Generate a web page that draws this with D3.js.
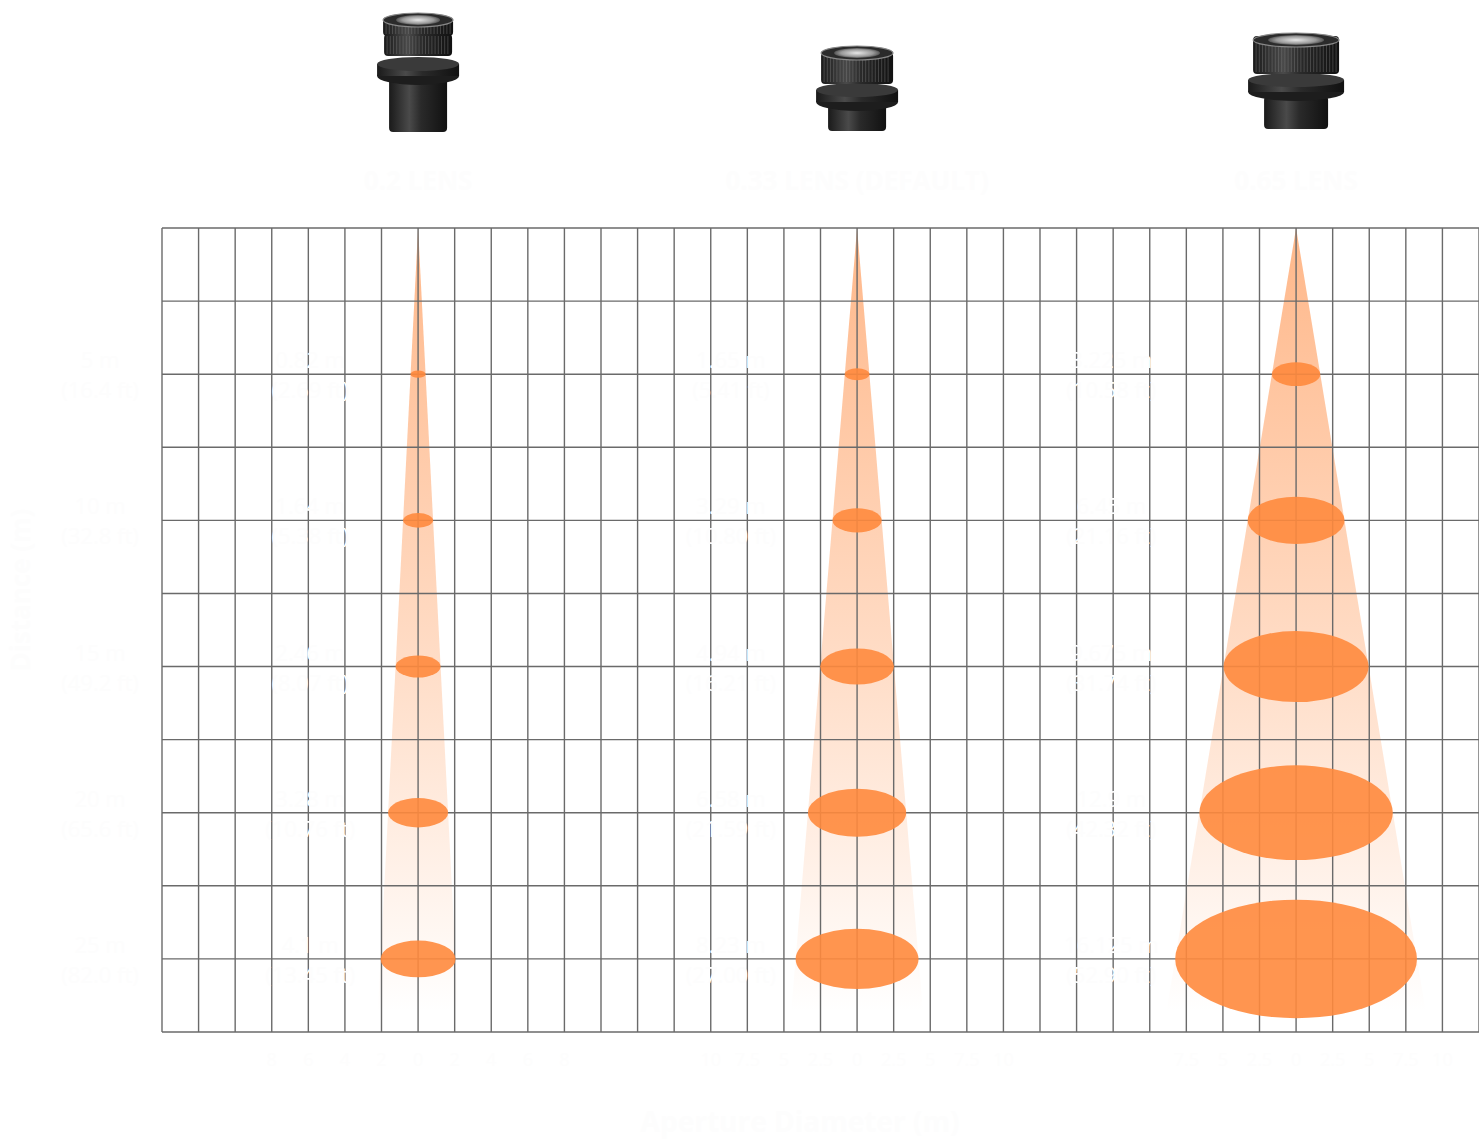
<!DOCTYPE html>
<html>
<head>
<meta charset="utf-8">
<script src="https://cdn.jsdelivr.net/npm/d3@7/dist/d3.min.js"></script>
<style>
  html, body { margin: 0; padding: 0; background: #ffffff; }
  svg { display: block; font-family: "Open Sans", "DejaVu Sans", sans-serif; }
</style>
</head>
<body>
<svg id="chart" width="1479" height="1142"></svg>
<script>
// ---------------- DATA ----------------
const lensNames = ["0.2 LENS", "0.33 LENS (DEFAULT)", "0.65 LENS"];
const distances = [5, 10, 15, 20, 25];                       // metres
const distanceLabels = ["(16.4 ft)", "(32.8 ft)", "(49.2 ft)", "(65.6 ft)", "(82.0 ft)"];
const lens1Diam = [0.82, 1.64, 2.46, 3.28, 4.10];
const lens2Diam = [1.65, 3.29, 4.94, 6.58, 8.23];
const lens3Diam = [3.225, 6.45, 9.675, 12.90, 16.125];
const lens1Feet = ["(2.69 ft)", "(5.38 ft)", "(8.07 ft)", "(10.76 ft)", "(13.45 ft)"];
const lens2Feet = ["(5.41 ft)", "(10.80 ft)", "(16.21 ft)", "(21.59 ft)", "(27.00 ft)"];
const lens3Feet = ["(10.58 ft)", "(21.16 ft)", "(31.74 ft)", "(42.32 ft)", "(52.90 ft)"];
const lens1Ticks = ["8", "6", "4", "2", "0", "2", "4", "6", "8"];
const lens2Ticks = ["10", "7.5", "5", "2.5", "0", "2.5", "5", "7.5", "10"];
const lens3Ticks = ["7.5", "5", "2.5", "0", "2.5", "5", "7.5", "10"];
const xAxisTitle = "Aperture Diameter (m)";
const yAxisTitle = "Distance (m)";

// ---------------- LAYOUT ----------------
const svg = d3.select("#chart");
const gridLeft = 162, gridRight = 1479, gridTop = 228, gridBottom = 1032;
const nCols = 36;
const maxDist = 27.5;

const y = d3.scaleLinear().domain([0, maxDist]).range([gridTop, gridBottom]);
const col = d3.scaleLinear().domain([0, nCols]).range([gridLeft, gridRight]);
const cellW = (gridRight - gridLeft) / nCols;

const panels = [
  { name: lensNames[0], diam: lens1Diam, feet: lens1Feet, ticks: lens1Ticks, center: 7, mPerCell: 2.0, labelCol: 4.05, tickStart: 3 },
  { name: lensNames[1], diam: lens2Diam, feet: lens2Feet, ticks: lens2Ticks, center: 19, mPerCell: 2.45, labelCol: 15.55, tickStart: 15 },
  { name: lensNames[2], diam: lens3Diam, feet: lens3Feet, ticks: lens3Ticks, center: 31, mPerCell: 2.44, labelCol: 25.95, tickStart: 28 }
];
panels.forEach(p => {
  const cx = col(p.center);
  p.x = d3.scaleLinear().domain([-p.mPerCell, p.mPerCell]).range([cx - cellW, cx + cellW]);
});

const textWhite = "#fdfdfd";
const orange = "#ff8a3d";

const defs = svg.append("defs");
const cone = defs.append("linearGradient").attr("id", "coneGrad")
  .attr("gradientUnits", "userSpaceOnUse")
  .attr("x1", 0).attr("y1", gridTop).attr("x2", 0).attr("y2", gridBottom - 20);
cone.append("stop").attr("offset", "0%").attr("stop-color", "#ff8c42").attr("stop-opacity", 0.62);
cone.append("stop").attr("offset", "55%").attr("stop-color", "#ff8c42").attr("stop-opacity", 0.3);
cone.append("stop").attr("offset", "100%").attr("stop-color", "#ff8c42").attr("stop-opacity", 0.0);

const metal = defs.append("linearGradient").attr("id", "metal").attr("x1", "0%").attr("x2", "100%");
metal.append("stop").attr("offset", "0%").attr("stop-color", "#1a1a1a");
metal.append("stop").attr("offset", "35%").attr("stop-color", "#4a4a4a");
metal.append("stop").attr("offset", "55%").attr("stop-color", "#2a2a2a");
metal.append("stop").attr("offset", "100%").attr("stop-color", "#111");
const glass = defs.append("radialGradient").attr("id", "glass");
glass.append("stop").attr("offset", "0%").attr("stop-color", "#e8e8e8");
glass.append("stop").attr("offset", "70%").attr("stop-color", "#9a9a9a");
glass.append("stop").attr("offset", "100%").attr("stop-color", "#555");

// ---------------- CONES ----------------
const coneG = svg.append("g");
panels.forEach(p => {
  const dMax = distances[distances.length - 1];
  const rMax = p.diam[p.diam.length - 1] / 2;
  const ext = maxDist - 0.6;
  const rExt = rMax * ext / dMax;
  const pts = [[p.x(0), y(0)], [p.x(rExt), y(ext)], [p.x(-rExt), y(ext)]];
  coneG.append("path").attr("d", d3.line()(pts) + "Z").attr("fill", "url(#coneGrad)");
});

// ---------------- GRID ----------------
const gridG = svg.append("g").attr("stroke", "#6a6a6a").attr("stroke-width", 1.4).attr("fill", "none");
gridG.selectAll("line.v").data(d3.range(0, nCols + 1)).join("line")
  .attr("x1", d => col(d)).attr("x2", d => col(d))
  .attr("y1", gridTop).attr("y2", gridBottom);
gridG.selectAll("line.h").data(d3.range(0, 12)).join("line")
  .attr("x1", gridLeft).attr("x2", gridRight)
  .attr("y1", d => y(d * 2.5)).attr("y2", d => y(d * 2.5));

// ---------------- ELLIPSES ----------------
const ellG = svg.append("g");
panels.forEach(p => {
  ellG.selectAll(null).data(distances.map((d, i) => ({ d, diam: p.diam[i] }))).join("ellipse")
    .attr("cx", p.x(0))
    .attr("cy", d => y(d.d))
    .attr("rx", d => p.x(d.diam / 2) - p.x(0))
    .attr("ry", d => (p.x(d.diam / 2) - p.x(0)) * 0.49)
    .attr("fill", orange)
    .attr("fill-opacity", 0.9);
});

// ---------------- TEXT (white) ----------------
const txt = svg.append("g").attr("fill", textWhite).attr("text-anchor", "middle");
distances.forEach((d, i) => {
  txt.append("text").attr("x", 100).attr("y", y(d) - 6).attr("font-size", 22).text(d + " m");
  txt.append("text").attr("x", 100).attr("y", y(d) + 24).attr("font-size", 22).text(distanceLabels[i]);
});
panels.forEach(p => {
  distances.forEach((d, i) => {
    txt.append("text").attr("x", col(p.labelCol)).attr("y", y(d) - 6).attr("font-size", 22)
      .text(p.diam[i] + " m");
    txt.append("text").attr("x", col(p.labelCol)).attr("y", y(d) + 24).attr("font-size", 22)
      .text(p.feet[i]);
  });
  txt.append("text").attr("x", p.x(0)).attr("y", 190).attr("font-size", 26).attr("font-weight", "bold")
    .text(p.name);
  txt.selectAll(null).data(p.ticks).join("text")
    .attr("x", (t, k) => col(p.tickStart + k)).attr("y", 1066).attr("font-size", 18).text(t => t);
});
txt.append("text").attr("x", 800).attr("y", 1132).attr("font-size", 28).attr("font-weight", "bold").text(xAxisTitle);
txt.append("text").attr("transform", "translate(30,590) rotate(-90)").attr("font-size", 26)
  .attr("font-weight", "bold").text(yAxisTitle);

// ---------------- LENS DRAWINGS ----------------
function knurl(g, x0, x1, y0, y1) {
  g.append("rect").attr("x", x0).attr("y", y0).attr("width", x1 - x0).attr("height", y1 - y0)
    .attr("rx", 4).attr("fill", "url(#metal)");
  for (let xx = x0 + 3; xx < x1 - 2; xx += 3.2) {
    g.append("line").attr("x1", xx).attr("x2", xx).attr("y1", y0 + 2).attr("y2", y1 - 2)
      .attr("stroke", "#777").attr("stroke-opacity", 0.45).attr("stroke-width", 1);
  }
}
function lens(cx, spec) {
  const g = svg.append("g");
  g.append("rect").attr("x", cx - spec.bodyW / 2).attr("y", spec.bodyY0).attr("width", spec.bodyW)
    .attr("height", spec.bodyY1 - spec.bodyY0).attr("rx", 4).attr("fill", "url(#metal)");
  g.append("ellipse").attr("cx", cx).attr("cy", spec.flY + 6).attr("rx", spec.flW / 2).attr("ry", 9).attr("fill", "#1d1d1d");
  g.append("rect").attr("x", cx - spec.flW / 2).attr("y", spec.flY - 6).attr("width", spec.flW).attr("height", 12)
    .attr("fill", "url(#metal)");
  g.append("ellipse").attr("cx", cx).attr("cy", spec.flY - 6).attr("rx", spec.flW / 2).attr("ry", 7).attr("fill", "#3a3a3a");
  spec.rings.forEach(r => knurl(g, cx - r.w / 2, cx + r.w / 2, r.y0, r.y1));
  g.append("ellipse").attr("cx", cx).attr("cy", spec.topY).attr("rx", spec.topW / 2).attr("ry", 7).attr("fill", "#2b2b2b")
    .attr("stroke", "#888").attr("stroke-width", 1.2);
  g.append("ellipse").attr("cx", cx).attr("cy", spec.topY).attr("rx", spec.glassW / 2).attr("ry", 5).attr("fill", "url(#glass)");
}
lens(col(7), { bodyW: 58, bodyY0: 78, bodyY1: 132, flW: 82, flY: 70,
  rings: [{ w: 70, y0: 18, y1: 36 }, { w: 68, y0: 34, y1: 56 }], topY: 20, topW: 70, glassW: 44 });
lens(col(19), { bodyW: 58, bodyY0: 100, bodyY1: 131, flW: 82, flY: 96,
  rings: [{ w: 72, y0: 52, y1: 84 }], topY: 53, topW: 72, glassW: 46 });
lens(col(31), { bodyW: 64, bodyY0: 96, bodyY1: 129, flW: 96, flY: 86,
  rings: [{ w: 86, y0: 36, y1: 74 }], topY: 40, topW: 86, glassW: 56 });
</script>
</body>
</html>
